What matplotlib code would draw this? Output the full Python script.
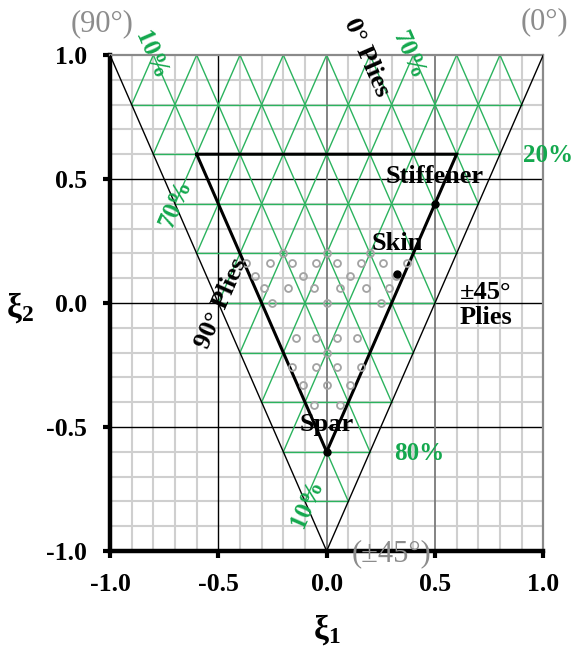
import matplotlib
matplotlib.use('Agg')
import matplotlib.pyplot as plt

plt.rcParams['font.family'] = ['Liberation Serif', 'DejaVu Serif']
plt.rcParams['mathtext.fontset'] = 'custom'
plt.rcParams['mathtext.rm'] = 'Liberation Serif:bold'
plt.rcParams['mathtext.it'] = 'Liberation Serif:bold'
plt.rcParams['mathtext.bf'] = 'Liberation Serif:bold'

# ---------------- data ----------------
tick_values = [-1.0, -0.5, 0.0, 0.5, 1.0]
tick_labels = ['-1.0', '-0.5', '0.0', '0.5', '1.0']
minor_values = [-0.9, -0.8, -0.7, -0.6, -0.4, -0.3, -0.2, -0.1,
                0.1, 0.2, 0.3, 0.4, 0.6, 0.7, 0.8, 0.9]

# ply percentage levels of the ternary (0/90/±45) grid
ply_levels = [0.1, 0.2, 0.3, 0.4, 0.5, 0.6, 0.7, 0.8, 0.9]

# outer feasible triangle vertices: 90°, ±45°, 0°
outer_xi1 = [-1.0, 0.0, 1.0]
outer_xi2 = [1.0, -1.0, 1.0]

# design space (>=10% 0°, >=10% 90°, >=20% ±45°)
region_xi1 = [-0.6, 0.6, 0.0, -0.6]
region_xi2 = [0.6, 0.6, -0.6, 0.6]

# candidate laminates (grey circles)
cand_xi1 = [-0.2, 0.0, 0.2,
            -0.37, -0.26, -0.16, -0.05, 0.05, 0.16, 0.26, 0.37,
            -0.33, -0.11, 0.11, 0.32,
            -0.29, -0.18, -0.06, 0.06, 0.18, 0.29,
            -0.25, 0.0, 0.25,
            -0.14, -0.05, 0.05, 0.14,
            0.0,
            -0.16, -0.05, 0.05, 0.16,
            -0.11, 0.0, 0.11,
            -0.06, 0.06]
cand_xi2 = [0.2, 0.2, 0.2,
            0.16, 0.16, 0.16, 0.16, 0.16, 0.16, 0.16, 0.16,
            0.11, 0.11, 0.11, 0.11,
            0.06, 0.06, 0.06, 0.06, 0.06, 0.06,
            0.0, 0.0, 0.0,
            -0.14, -0.14, -0.14, -0.14,
            -0.2,
            -0.26, -0.26, -0.26, -0.26,
            -0.33, -0.33, -0.33,
            -0.41, -0.41]

# design points
point_names = ['Stiffener', 'Skin', 'Spar']
point_xi1 = [0.5, 0.324, 0.0]
point_xi2 = [0.4, 0.117, -0.6]

# --------------- figure ---------------
W, H = 577, 648
fig = plt.figure(figsize=(W / 100, H / 100), dpi=100)
ax = fig.add_axes([110 / W, 97 / H, (543.3 - 110) / W, (551 - 55) / H])
ax.set_xlim(-1, 1)
ax.set_ylim(-1, 1)

green_line = '#2bb35e'
green_text = '#14a84e'

# grey grid
for v in minor_values:
    ax.axvline(v, color='#cfcfcf', lw=1.5, zorder=1)
    ax.axhline(v, color='#cfcfcf', lw=1.5, zorder=1)
for v in [-0.5, 0.0, 0.5]:
    ax.axhline(v, color='black', lw=1.0, zorder=1.5)
ax.axvline(-0.5, color='black', lw=1.0, zorder=1.5)
for v in [0.0, 0.5]:
    ax.axvline(v, color='#7a7a7a', lw=1.3, zorder=1.5)

# green ternary grid
for c in ply_levels:
    y = 1 - 2 * c  # ±45 fraction
    ax.plot([-(1 + y) / 2, (1 + y) / 2], [y, y], color=green_line, lw=1.0, zorder=2)
    # 0° fraction
    ax.plot([2 * c - 1, c], [1, 2 * c - 1], color=green_line, lw=1.0, zorder=2)
    # 90° fraction
    ax.plot([1 - 2 * c, -c], [1, 2 * c - 1], color=green_line, lw=1.0, zorder=2)

# outer triangle
ax.plot(outer_xi1, outer_xi2, color='black', lw=1.0, zorder=3)
# design region
ax.plot(region_xi1, region_xi2, color='black', lw=2.2, zorder=4, solid_joinstyle='miter')

# candidates
ax.plot(cand_xi1, cand_xi2, 'o', ms=5, mfc='none', mec='#a3a3a3', mew=1.3, zorder=5)
# design points
ax.plot(point_xi1, point_xi2, 'o', ms=5, color='black', zorder=6)

# spines & ticks
for s in ['left', 'bottom']:
    ax.spines[s].set_linewidth(3.2)
    ax.spines[s].set_color('black')
for s in ['top', 'right']:
    ax.spines[s].set_linewidth(1.6)
    ax.spines[s].set_color('#8a8a8a')
ax.set_xticks(tick_values)
ax.set_xticklabels(tick_labels)
ax.set_yticks(tick_values)
ax.set_yticklabels(tick_labels)
ax.tick_params(direction='out', length=5, width=3, color='black',
               labelsize=18.5)
ax.tick_params(axis='y', pad=11.5)
ax.tick_params(axis='x', pad=11)
for lab in ax.get_xticklabels() + ax.get_yticklabels():
    lab.set_fontweight('bold')

ax.set_xlabel(r'$\mathrm{ξ}_\mathrm{1}$', fontsize=24, va='center', ha='center')
ax.set_ylabel(r'$\mathrm{ξ}_\mathrm{2}$', fontsize=24, rotation=0,
              va='center', ha='center')
ax.xaxis.set_label_coords(0.5, -0.158)
ax.yaxis.set_label_coords(-0.208, 0.49)

ang = 66.4
bold = dict(fontweight='bold', fontsize=19, zorder=8, ha='center', va='center')
ax.text(0.186, 0.99, '0° Plies', rotation=-ang, clip_on=False, **bold)
ax.text(-0.488, 0.0, '90° Plies', rotation=ang, **bold)
ax.text(0.615, -0.008, '±45°\nPlies', fontweight='bold', fontsize=19, zorder=8,
        ha='left', va='center', linespacing=1.15)
label_pos = [(0.50, 0.51), (0.324, 0.238), (0.0, -0.488)]
for name, (lx, ly) in zip(point_names, label_pos):
    ax.text(lx, ly, name, **bold)

gbold = dict(fontweight='bold', fontsize=18, color=green_text, zorder=8,
             ha='center', va='center', clip_on=False)
ax.text(-0.81, 1.0, '10%', rotation=-ang, **gbold)
ax.text(0.38, 1.0, '70%', rotation=-ang, **gbold)
ax.text(1.02, 0.593, '20%', **gbold)
ax.text(-0.698, 0.40, '70%', rotation=ang, **gbold)
ax.text(0.426, -0.605, '80%', **gbold)
ax.text(-0.089, -0.808, '10%', rotation=ang, **gbold)

gray = dict(fontsize=22, color='#8c8c8c', zorder=9, ha='center', va='center',
            clip_on=False)
ax.text(-1.037, 1.125, '(90°)', **gray)
ax.text(1.003, 1.133, '(0°)', **gray)
ax.text(0.299, -1.01, '(±45°)', **gray)

fig.savefig('out.png', dpi=100)
